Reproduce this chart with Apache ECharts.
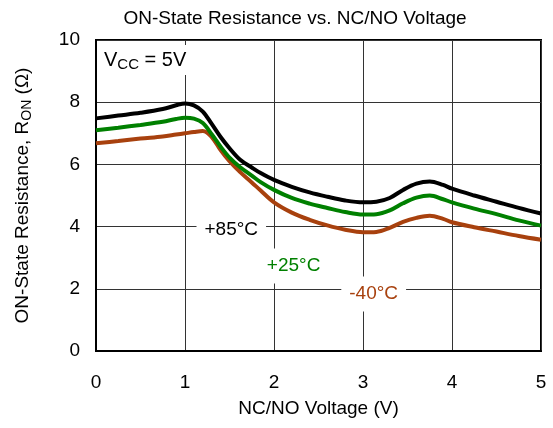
<!DOCTYPE html>
<html><head><meta charset="utf-8">
<script src="https://cdn.jsdelivr.net/npm/echarts@6/dist/echarts.min.js"></script>
<style>html,body{margin:0;padding:0;background:#fff}#c{width:553px;height:428px}</style>
</head><body><div id="c"></div>
<script>
const voltage = [0, 0.25, 0.5, 0.75, 0.9, 1.0, 1.1, 1.2, 1.3, 1.4, 1.5, 1.62, 1.75, 1.85, 2.0, 2.2, 2.4, 2.6, 2.8, 3.0, 3.15, 3.3, 3.45, 3.6, 3.75, 3.9, 4.0, 4.25, 4.5, 4.75, 5.0];
const r85 = [7.48, 7.57, 7.66, 7.78, 7.9, 7.96, 7.9, 7.7, 7.3, 6.88, 6.52, 6.15, 5.9, 5.72, 5.5, 5.28, 5.1, 4.96, 4.84, 4.78, 4.8, 4.92, 5.18, 5.38, 5.45, 5.34, 5.22, 5.0, 4.8, 4.6, 4.42];
const r25 = [7.1, 7.18, 7.27, 7.37, 7.46, 7.5, 7.47, 7.33, 6.97, 6.57, 6.22, 5.91, 5.64, 5.43, 5.18, 4.92, 4.74, 4.6, 4.47, 4.39, 4.4, 4.52, 4.75, 4.93, 5.0, 4.88, 4.78, 4.58, 4.4, 4.2, 4.03];
const rm40 = [6.68, 6.75, 6.83, 6.9, 6.96, 7.0, 7.04, 7.07, 6.88, 6.46, 6.1, 5.75, 5.42, 5.16, 4.78, 4.45, 4.22, 4.04, 3.9, 3.82, 3.83, 3.96, 4.15, 4.28, 4.35, 4.25, 4.14, 3.98, 3.84, 3.7, 3.58];
const xTicks = [0, 1, 2, 3, 4, 5];
const yTicks = [0, 2, 4, 6, 8, 10];
const seriesNames = ['+85°C', '+25°C', '-40°C'];
const seriesColors = ['#000000', '#008000', '#A8410E'];
const labelPos = [[1.52, 3.9], [2.22, 2.73], [3.12, 1.83]];

const font = 'Liberation Sans, Arial, sans-serif';
const chart = echarts.init(document.getElementById('c'), null, {renderer: 'canvas'});
const toPairs = arr => voltage.map((v, i) => [v, arr[i]]);
const allData = [r85, r25, rm40];

chart.setOption({
  animation: false,
  title: {
    text: 'ON-State Resistance vs. NC/NO Voltage',
    left: 290, top: 4, textAlign: 'center',
    textStyle: {fontFamily: font, fontSize: 19, fontWeight: 'normal', color: '#000'}
  },
  grid: {left: 96, right: 12, top: 40, bottom: 77, show: true, borderColor: '#000', borderWidth: 2, backgroundColor: 'transparent'},
  xAxis: {
    type: 'value', min: xTicks[0], max: xTicks[xTicks.length - 1], interval: 1,
    name: 'NC/NO Voltage (V)', nameLocation: 'middle', nameGap: 48,
    nameTextStyle: {fontFamily: font, fontSize: 19, color: '#000'},
    axisLine: {show: true, lineStyle: {color: '#000', width: 2}},
    axisTick: {show: false},
    axisLabel: {fontFamily: font, fontSize: 19, color: '#000', margin: 22},
    splitLine: {show: true, lineStyle: {color: '#333', width: 1}}
  },
  yAxis: {
    type: 'value', min: yTicks[0], max: yTicks[yTicks.length - 1], interval: 2,
    name: 'ON-State Resistance, R{sub|ON} (Ω)', nameLocation: 'middle', nameGap: 62,
    nameTextStyle: {fontFamily: font, fontSize: 19, color: '#000', lineHeight: 23,
      rich: {sub: {fontFamily: font, fontSize: 14, verticalAlign: 'bottom', lineHeight: 14, color: '#000'}}},
    axisLine: {show: true, lineStyle: {color: '#000', width: 2}},
    axisTick: {show: false},
    axisLabel: {fontFamily: font, fontSize: 19, color: '#000', margin: 16},
    splitLine: {show: true, lineStyle: {color: '#333', width: 1}}
  },
  series: allData.map((d, i) => ({
    name: seriesNames[i], type: 'line', data: toPairs(d), smooth: 0.35, showSymbol: false,
    lineStyle: {color: seriesColors[i], width: 4}, z: 10 - i
  }))
});

function addGraphics() {
  const els = [];
  els.push({
    type: 'text', left: 100, top: 45, z: 20,
    style: {
      text: 'V{sub|CC} = 5V', fill: '#000', fontFamily: font, fontSize: 20, lineHeight: 24,
      backgroundColor: '#fff', padding: [3, 4, 3, 4],
      rich: {sub: {fontFamily: font, fontSize: 15, verticalAlign: 'bottom', lineHeight: 15, fill: '#000'}}
    }
  });
  labelPos.forEach((p, i) => {
    const px = chart.convertToPixel({gridIndex: 0}, p);
    els.push({
      type: 'text', x: px[0], y: px[1], z: 20,
      style: {
        text: seriesNames[i], fill: seriesColors[i], fontFamily: font, fontSize: 19,
        align: 'center', verticalAlign: 'middle', backgroundColor: '#fff', padding: [8, 8, 8, 8]
      }
    });
  });
  chart.setOption({graphic: els});
}
addGraphics();
</script></body></html>
